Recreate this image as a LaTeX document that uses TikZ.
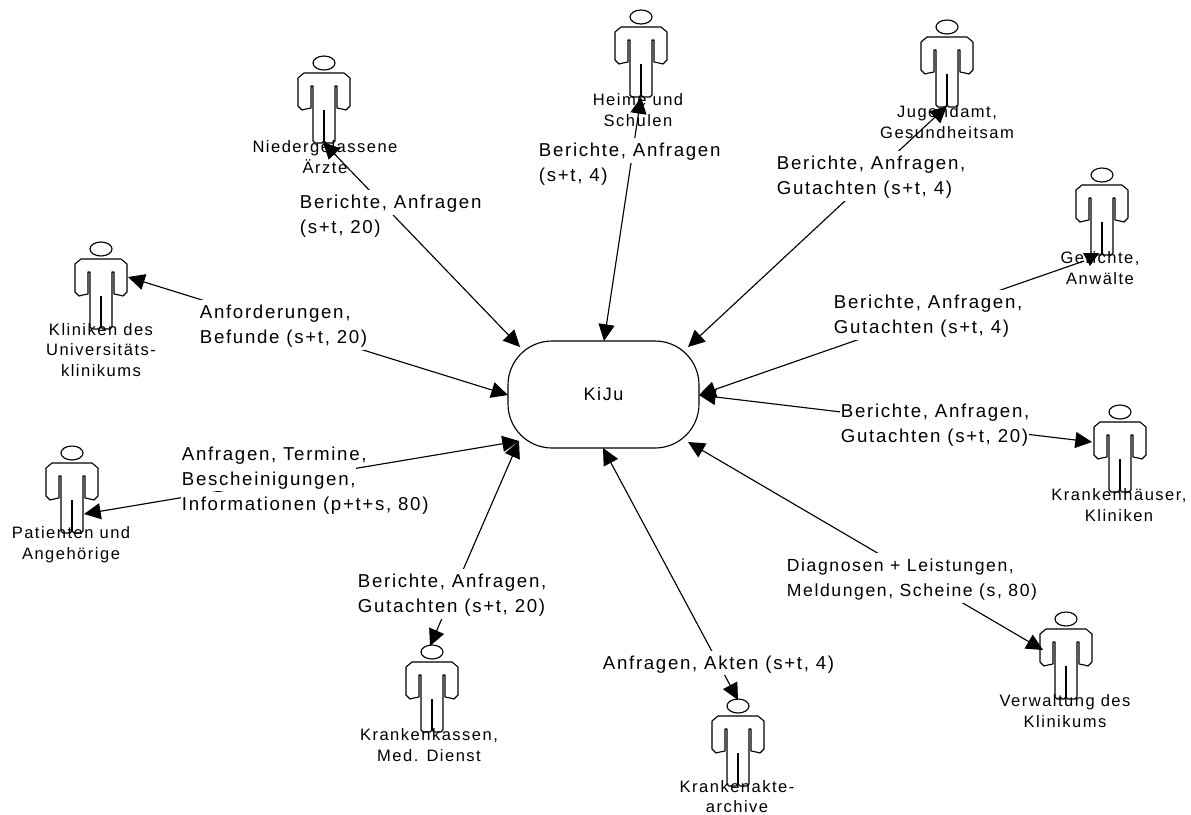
\documentclass[tikz,border=0pt]{standalone}
\usepackage{fontspec}
\setmainfont{Liberation Sans}[LetterSpace=9]
\usetikzlibrary{arrows.meta}
\newcommand{\whln}[1]{{\fboxsep=0.5pt\colorbox{white}{\rule[-4pt]{0pt}{17.5pt}#1}}}
\tikzset{
  x=0.75pt,y=-0.75pt,
  flow/.style={line width=0.85pt,{Triangle[length=12.5pt,width=12pt]}-{Triangle[length=12.5pt,width=12pt]}},
  flowhalf/.style={line width=0.85pt,-{Triangle[length=12.5pt,width=12pt]}},
  flowlabel/.style={anchor=west,align=left,inner sep=0pt,font=\fontsize{14pt}{18.75pt}\selectfont},
  rolelabel/.style={align=center,inner sep=0pt,font=\fontsize{12.4pt}{15.5pt}\selectfont},
  hub/.style={draw,line width=0.85pt,rounded corners=33pt,minimum width=143.25pt,minimum height=80.25pt,inner sep=0pt,font=\fontsize{13.5pt}{16pt}\selectfont},
  person/.pic={
    \draw[line width=0.85pt] (0,0) ellipse [x radius=8.25pt,y radius=5.25pt];
    \draw[line width=0.85pt,line join=round,fill=white]
      (-20,10) -- (-26,15) -- (-26,43) -- (-22,47) -- (-18,46) -- (-13,45) -- (-13,23) -- (-11,23) -- (-11,78) -- (-9,80) -- (-2,80) -- (0,78)
      -- (2,80) -- (9,80) -- (11,78) -- (11,23) -- (13,23) -- (13,45) -- (18,46) -- (22,47) -- (26,43) -- (26,15) -- (20,10) -- cycle;
    \draw[line width=1.5pt] (0,47) -- (0,78);
  }
}
\begin{document}
\begin{tikzpicture}
\useasboundingbox[fill=white] (0,0) rectangle (1191,814);
% persons
\foreach \nm/\px/\py in {a/324/63,b/641/17,c/947/27,d/1102/175,e/1120/412,f/1066/619,g/738/706,h/432/652,i/72/453,j/101/249}
  \pic (\nm) at (\px,\py) {person};
% role labels
\node[rolelabel] (rA) at (325,157) {Niedergelassene\\Ärzte};
\node[rolelabel] (rB) at (638,110) {Heime und\\Schulen};
\node[rolelabel] (rC) at (947,122) {Jugendamt,\\Gesundheitsam};
\node[rolelabel] (rD) at (1100,268) {Gerichte,\\Anwälte};
\node[rolelabel] (rE) at (1119,505) {Krankenhäuser,\\Kliniken};
\node[rolelabel] (rF) at (1065,711) {Verwaltung des\\Klinikums};
\node[rolelabel] (rG) at (737,796.5) {Krankenakte-\\archive};
\node[rolelabel] (rH) at (429,745) {Krankenkassen,\\Med. Dienst};
\node[rolelabel] (rI) at (71,545) {Patienten und\\Angehörige};
\node[rolelabel] (rJ) at (101,350) {Kliniken des\\Universitäts-\\klinikums};
% hub
\node[hub] (kiju) at (603.5,394.5) {KiJu};
% connector ends
\coordinate (pa) at (323,142); \coordinate (ka) at (520,347);
\coordinate (pb) at (641,97);  \coordinate (kb) at (604,341);
\coordinate (pc) at (947,106); \coordinate (kc) at (688,347);
\coordinate (pd) at (1084,261); \coordinate (kd) at (699,395);
\coordinate (pe) at (1092,442); \coordinate (ke) at (699,395);
\coordinate (pf) at (1043,650); \coordinate (kf) at (688,442);
\coordinate (pg) at (738,700); \coordinate (kg) at (603,448);
\coordinate (ph) at (430,646); \coordinate (kh) at (519,441);
\coordinate (pi) at (84,514);  \coordinate (ki) at (519,441);
\coordinate (pj) at (128,277); \coordinate (kj) at (508,395);
\foreach \s in {a,b,c,e,f,g,h,i,j} \draw[flow] (p\s) -- (k\s);
\draw[flowhalf] (pd) -- (kd);
\coordinate (da) at (1083,253); \coordinate (db) at (1099,253); \coordinate (dc) at (1090,266);
\fill (da) -- (db) -- (dc) -- cycle;
% flow labels
\node[flowlabel] (lA) at (299,215) {\whln{Berichte, Anfragen}\\\whln{(s+t, 20)}};
\node[flowlabel] (lB) at (538,163) {\whln{Berichte, Anfragen}\\\whln{(s+t, 4)}};
\node[flowlabel] (lC) at (776,176) {\whln{Berichte, Anfragen,}\\\whln{Gutachten (s+t, 4)}};
\node[flowlabel] (lD) at (833,315) {\whln{Berichte, Anfragen,}\\\whln{Gutachten (s+t, 4)}};
\node[flowlabel] (lE) at (840,424) {\whln{Berichte, Anfragen,}\\\whln{Gutachten (s+t, 20)}};
\node[flowlabel,font=\fontsize{13.2pt}{18.75pt}\selectfont] (lF) at (786,578) {\whln{Diagnosen + Leistungen,}\\\whln{Meldungen, Scheine (s, 80)}};
\node[flowlabel] (lG) at (602,663) {\whln{Anfragen, Akten (s+t, 4)}};
\node[flowlabel] (lH) at (357,594) {\whln{Berichte, Anfragen,}\\\whln{Gutachten (s+t, 20)}};
\node[flowlabel] (lI) at (181,479) {\whln{Anfragen, Termine,}\\\whln{Bescheinigungen,}\\\whln{Informationen (p+t+s, 80)}};
\node[flowlabel] (lJ) at (199,325) {\whln{Anforderungen,}\\\whln{Befunde (s+t, 20)}};
\end{tikzpicture}
\end{document}
